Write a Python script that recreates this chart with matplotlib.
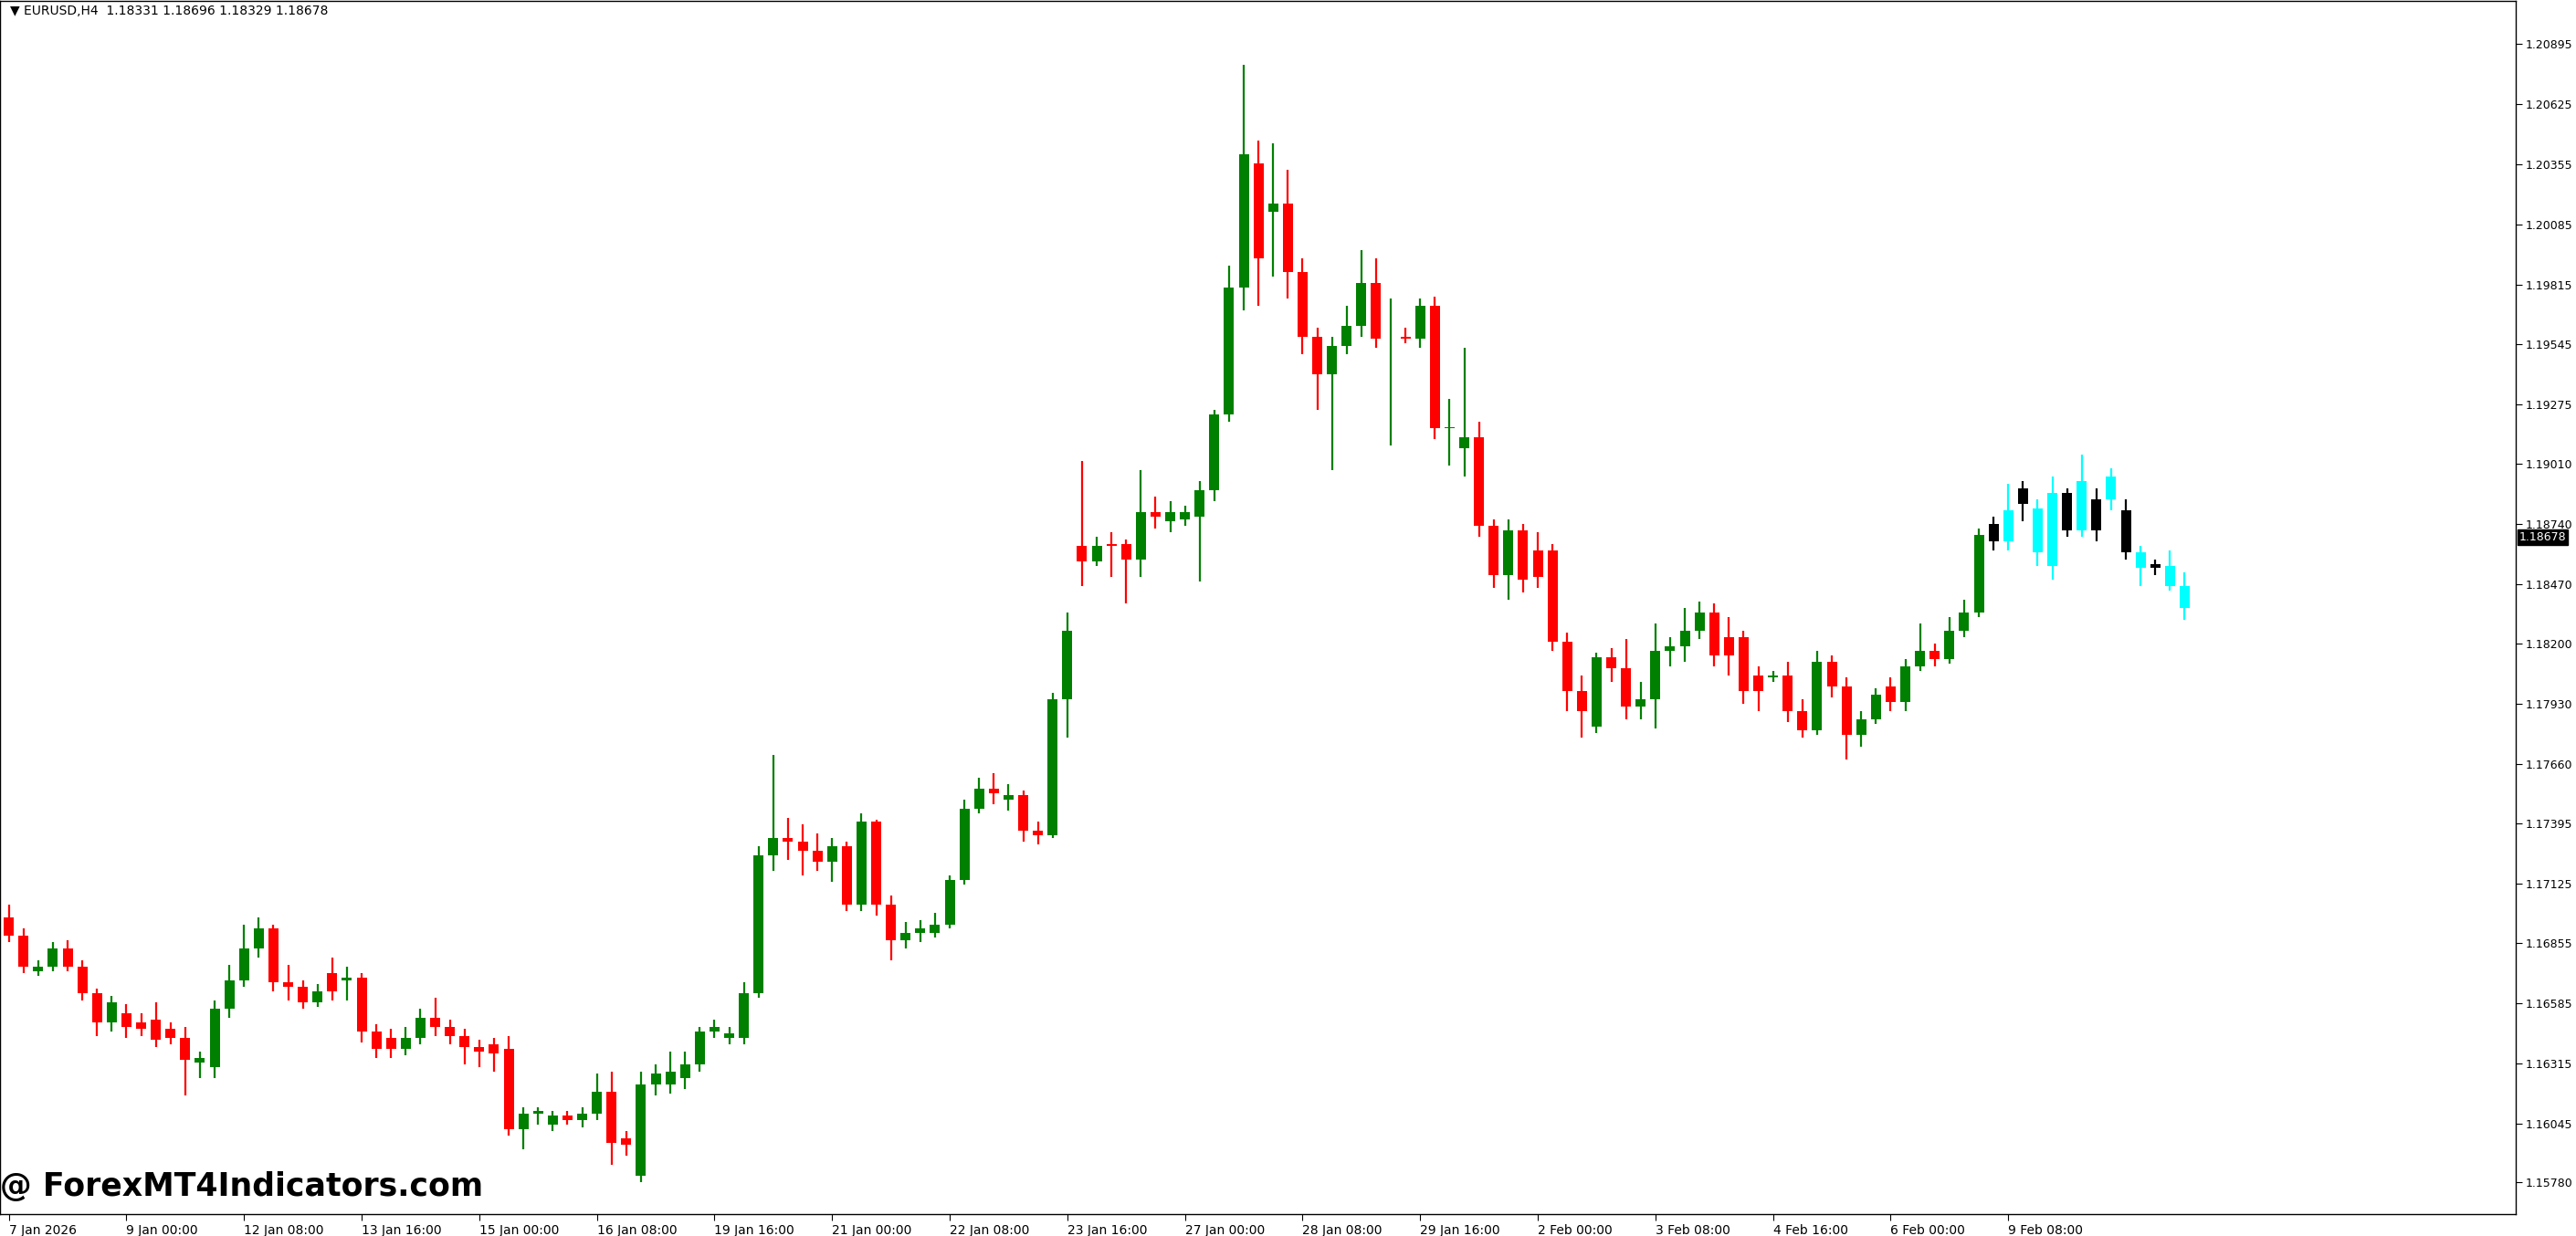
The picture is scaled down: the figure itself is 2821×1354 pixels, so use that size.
import matplotlib
matplotlib.use("Agg")
import matplotlib.pyplot as plt
from matplotlib.patches import Rectangle

# OHLC of the EURUSD H4 candles
opens = [
    1.1697, 1.1689, 1.1673, 1.1675, 1.1683, 1.1675, 1.1663, 1.1650, 1.1654, 1.1650,
    1.1651, 1.1647, 1.1643, 1.1632, 1.1630, 1.1656, 1.1669, 1.1683, 1.1692, 1.1668,
    1.1666, 1.1659, 1.1672, 1.1669, 1.1670, 1.1646, 1.1643, 1.1638, 1.1643, 1.1652,
    1.1648, 1.1644, 1.1639, 1.1640, 1.1638, 1.1602, 1.1609, 1.1604, 1.1608, 1.1606,
    1.1609, 1.1619, 1.1598, 1.1581, 1.1622, 1.1622, 1.1625, 1.1631, 1.1646, 1.1643,
    1.1643, 1.1663, 1.1725, 1.1733, 1.1731, 1.1727, 1.1722, 1.1729, 1.1703, 1.1740,
    1.1703, 1.1687, 1.1690, 1.1690, 1.1694, 1.1714, 1.1746, 1.1755, 1.1750, 1.1752,
    1.1736, 1.1734, 1.1795, 1.1864, 1.1857, 1.1865, 1.1865, 1.1858, 1.1879, 1.1875,
    1.1876, 1.1877, 1.1889, 1.1923, 1.1980, 1.2036, 1.2014, 1.2018, 1.1987, 1.1958,
    1.1941, 1.1954, 1.1963, 1.1982, 1.1957, 1.1958, 1.1957, 1.1972, 1.1917, 1.1908,
    1.1913, 1.1873, 1.1851, 1.1871, 1.1862, 1.1862, 1.1821, 1.1799, 1.1783, 1.1814,
    1.1809, 1.1792, 1.1795, 1.1817, 1.1819, 1.1826, 1.1834, 1.1823, 1.1823, 1.1806,
    1.1805, 1.1806, 1.1790, 1.1781, 1.1812, 1.1801, 1.1779, 1.1786, 1.1801, 1.1794,
    1.1810, 1.1817, 1.1813, 1.1826, 1.1834, 1.1866, 1.1880, 1.1883, 1.1881, 1.1888,
    1.1888, 1.1893, 1.1885, 1.1895, 1.1880, 1.1861, 1.1856, 1.1855, 1.1846,
]
closes = [
    1.1689, 1.1675, 1.1675, 1.1683, 1.1675, 1.1663, 1.1650, 1.1659, 1.1648, 1.1647,
    1.1642, 1.1643, 1.1633, 1.1634, 1.1656, 1.1669, 1.1683, 1.1692, 1.1668, 1.1666,
    1.1659, 1.1664, 1.1664, 1.1670, 1.1646, 1.1638, 1.1638, 1.1643, 1.1652, 1.1648,
    1.1644, 1.1639, 1.1637, 1.1636, 1.1602, 1.1609, 1.1610, 1.1608, 1.1606, 1.1609,
    1.1619, 1.1596, 1.1595, 1.1622, 1.1627, 1.1628, 1.1631, 1.1646, 1.1648, 1.1645,
    1.1663, 1.1725, 1.1733, 1.1731, 1.1727, 1.1722, 1.1729, 1.1703, 1.1740, 1.1703,
    1.1687, 1.1690, 1.1692, 1.1694, 1.1714, 1.1746, 1.1755, 1.1753, 1.1752, 1.1736,
    1.1734, 1.1795, 1.1826, 1.1857, 1.1864, 1.1864, 1.1858, 1.1879, 1.1877, 1.1879,
    1.1879, 1.1889, 1.1923, 1.1980, 1.2040, 1.1993, 1.2018, 1.1987, 1.1958, 1.1941,
    1.1954, 1.1963, 1.1982, 1.1957, 1.1957, 1.1957, 1.1972, 1.1917, 1.1917, 1.1913,
    1.1873, 1.1851, 1.1871, 1.1849, 1.1850, 1.1821, 1.1799, 1.1790, 1.1814, 1.1809,
    1.1792, 1.1795, 1.1817, 1.1819, 1.1826, 1.1834, 1.1815, 1.1815, 1.1799, 1.1799,
    1.1806, 1.1790, 1.1781, 1.1812, 1.1801, 1.1779, 1.1786, 1.1797, 1.1794, 1.1810,
    1.1817, 1.1813, 1.1826, 1.1834, 1.1869, 1.1874, 1.1866, 1.1890, 1.1861, 1.1855,
    1.1871, 1.1871, 1.1871, 1.1885, 1.1861, 1.1854, 1.1854, 1.1846, 1.1836,
]
highs = [
    1.1703, 1.1692, 1.1678, 1.1686, 1.1687, 1.1678, 1.1665, 1.1662, 1.1658, 1.1654,
    1.1659, 1.1650, 1.1648, 1.1637, 1.1660, 1.1676, 1.1694, 1.1697, 1.1694, 1.1676,
    1.1669, 1.1667, 1.1679, 1.1675, 1.1672, 1.1649, 1.1647, 1.1648, 1.1656, 1.1661,
    1.1651, 1.1647, 1.1642, 1.1643, 1.1644, 1.1612, 1.1612, 1.1610, 1.1610, 1.1612,
    1.1627, 1.1628, 1.1601, 1.1628, 1.1631, 1.1637, 1.1637, 1.1648, 1.1651, 1.1648,
    1.1668, 1.1729, 1.1770, 1.1742, 1.1739, 1.1735, 1.1733, 1.1731, 1.1744, 1.1741,
    1.1707, 1.1695, 1.1696, 1.1699, 1.1716, 1.1750, 1.1760, 1.1762, 1.1757, 1.1754,
    1.1740, 1.1798, 1.1834, 1.1902, 1.1868, 1.1870, 1.1867, 1.1898, 1.1886, 1.1884,
    1.1882, 1.1893, 1.1925, 1.1990, 1.2080, 1.2046, 1.2045, 1.2033, 1.1993, 1.1962,
    1.1958, 1.1972, 1.1997, 1.1993, 1.1975, 1.1962, 1.1975, 1.1976, 1.1930, 1.1953,
    1.1920, 1.1876, 1.1876, 1.1874, 1.1870, 1.1865, 1.1825, 1.1806, 1.1816, 1.1818,
    1.1822, 1.1803, 1.1829, 1.1823, 1.1836, 1.1839, 1.1838, 1.1832, 1.1826, 1.1810,
    1.1808, 1.1812, 1.1795, 1.1817, 1.1815, 1.1805, 1.1790, 1.1800, 1.1805, 1.1813,
    1.1829, 1.1820, 1.1832, 1.1840, 1.1872, 1.1877, 1.1892, 1.1893, 1.1885, 1.1895,
    1.1890, 1.1905, 1.1890, 1.1899, 1.1885, 1.1864, 1.1858, 1.1862, 1.1852,
]
lows = [
    1.1686, 1.1672, 1.1671, 1.1673, 1.1673, 1.1660, 1.1644, 1.1646, 1.1643, 1.1644,
    1.1639, 1.1640, 1.1617, 1.1625, 1.1625, 1.1652, 1.1666, 1.1679, 1.1664, 1.1660,
    1.1656, 1.1657, 1.1660, 1.1660, 1.1641, 1.1634, 1.1634, 1.1635, 1.1640, 1.1644,
    1.1640, 1.1631, 1.1630, 1.1628, 1.1599, 1.1593, 1.1604, 1.1601, 1.1604, 1.1603,
    1.1606, 1.1586, 1.1590, 1.1578, 1.1617, 1.1618, 1.1620, 1.1628, 1.1643, 1.1640,
    1.1640, 1.1661, 1.1718, 1.1723, 1.1716, 1.1718, 1.1713, 1.1700, 1.1700, 1.1698,
    1.1678, 1.1683, 1.1686, 1.1688, 1.1692, 1.1712, 1.1744, 1.1748, 1.1745, 1.1731,
    1.1730, 1.1733, 1.1778, 1.1846, 1.1855, 1.1850, 1.1838, 1.1850, 1.1872, 1.1870,
    1.1873, 1.1848, 1.1884, 1.1920, 1.1970, 1.1972, 1.1985, 1.1975, 1.1950, 1.1925,
    1.1898, 1.1950, 1.1958, 1.1953, 1.1909, 1.1955, 1.1953, 1.1912, 1.1900, 1.1895,
    1.1868, 1.1845, 1.1840, 1.1843, 1.1845, 1.1817, 1.1790, 1.1778, 1.1780, 1.1803,
    1.1786, 1.1786, 1.1782, 1.1810, 1.1812, 1.1822, 1.1810, 1.1806, 1.1793, 1.1790,
    1.1803, 1.1785, 1.1778, 1.1779, 1.1796, 1.1768, 1.1774, 1.1784, 1.1790, 1.1790,
    1.1808, 1.1810, 1.1811, 1.1823, 1.1832, 1.1862, 1.1862, 1.1875, 1.1855, 1.1849,
    1.1868, 1.1868, 1.1866, 1.1880, 1.1858, 1.1846, 1.1851, 1.1844, 1.1831,
]
# last candles are coloured by an indicator (black / cyan)
tail_colors = ["black", "cyan", "black", "cyan", "cyan", "black", "cyan",
               "black", "cyan", "black", "cyan", "black", "cyan", "cyan"]

price_ticks = [1.20895, 1.20625, 1.20355, 1.20085, 1.19815, 1.19545, 1.19275,
               1.19010, 1.18740, 1.18470, 1.18200, 1.17930, 1.17660, 1.17395,
               1.17125, 1.16855, 1.16585, 1.16315, 1.16045, 1.15780]
date_labels = ["7 Jan 2026", "9 Jan 00:00", "12 Jan 08:00", "13 Jan 16:00",
               "15 Jan 00:00", "16 Jan 08:00", "19 Jan 16:00", "21 Jan 00:00",
               "22 Jan 08:00", "23 Jan 16:00", "27 Jan 00:00", "28 Jan 08:00",
               "29 Jan 16:00", "2 Feb 00:00", "3 Feb 08:00", "4 Feb 16:00",
               "6 Feb 00:00", "9 Feb 08:00"]
last_price = 1.18678

fig = plt.figure(figsize=(28.21, 13.54), dpi=100)
ax = fig.add_axes([0.0, 0.018, 0.9765, 0.981])

n = len(closes)
ntail = len(tail_colors)
for i in range(n):
    o, c, h, l = opens[i], closes[i], highs[i], lows[i]
    if i >= n - ntail:
        col = tail_colors[i - (n - ntail)]
    else:
        col = "#008000" if c >= o else "#ff0000"
    ax.vlines(i, l, h, color=col, linewidth=1.6)
    bottom = min(o, c)
    height = max(abs(c - o), 0.00003)
    ax.add_patch(Rectangle((i - 0.34, bottom), 0.68, height, color=col, lw=0))

ax.set_xlim(-0.6, 170.5)
ax.set_ylim(1.15640, 1.21087)

ax.yaxis.tick_right()
ax.set_yticks(price_ticks)
ax.set_yticklabels([f"{p:.5f}" for p in price_ticks], fontsize=9)
ax.tick_params(axis="y", length=5, pad=3)

ax.set_xticks([8 * k for k in range(len(date_labels))])
ax.set_xticklabels(date_labels, fontsize=10, ha="left")
ax.tick_params(axis="x", length=5, pad=3)

for s in ax.spines.values():
    s.set_linewidth(1.0)

# current price tag
ax.annotate(f"{last_price:.5f}", xy=(1.0, last_price), xycoords=("axes fraction", "data"),
            xytext=(3, 0), textcoords="offset points", ha="left", va="center",
            fontsize=9, color="white",
            bbox=dict(boxstyle="square,pad=0.15", fc="black", ec="black"))

ax.text(0.004, 0.997, "\u25bc EURUSD,H4  1.18331 1.18696 1.18329 1.18678",
        transform=ax.transAxes, ha="left", va="top", fontsize=10)
ax.text(0.0, 0.022, "@ ForexMT4Indicators.com", transform=ax.transAxes,
        ha="left", va="center", fontsize=25, fontweight="bold")

fig.savefig("out.png", dpi=100)
